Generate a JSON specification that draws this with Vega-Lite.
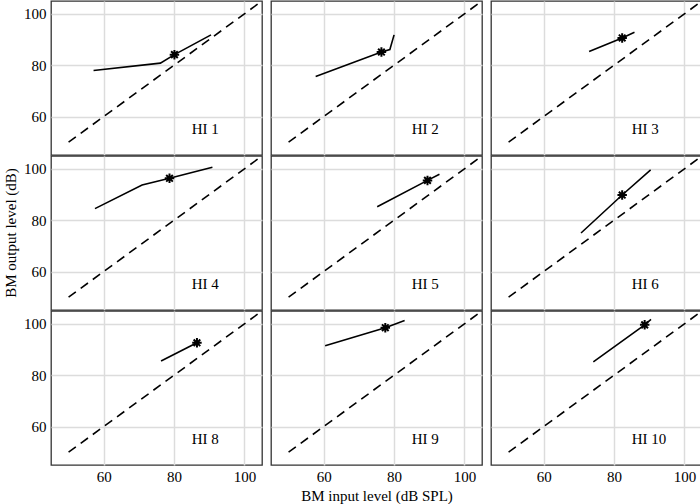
{
  "$schema": "https://vega.github.io/schema/vega-lite/v6.json",
  "padding": {"left": 3, "top": 0, "right": 1, "bottom": 0},
  "background": "white",
  "data": {"values": [
    {"p":"HI 1","r":1,"c":1,"s":"diag","x":50,"y":50,"o":1},
    {"p":"HI 1","r":1,"c":1,"s":"diag","x":106,"y":106,"o":2},
    {"p":"HI 1","r":1,"c":1,"s":"curve","x":57.1,"y":77.9,"o":1},
    {"p":"HI 1","r":1,"c":1,"s":"curve","x":76.1,"y":80.8,"o":2},
    {"p":"HI 1","r":1,"c":1,"s":"curve","x":80.1,"y":84.1,"o":3},
    {"p":"HI 1","r":1,"c":1,"s":"curve","x":90.5,"y":91.8,"o":4},
    {"p":"HI 1","r":1,"c":1,"s":"star","x":80.1,"y":84.1,"o":1},
    {"p":"HI 1","r":1,"c":1,"s":"label","x":85,"y":55,"o":1},

    {"p":"HI 2","r":1,"c":2,"s":"diag","x":50,"y":50,"o":1},
    {"p":"HI 2","r":1,"c":2,"s":"diag","x":106,"y":106,"o":2},
    {"p":"HI 2","r":1,"c":2,"s":"curve","x":57.7,"y":75.6,"o":1},
    {"p":"HI 2","r":1,"c":2,"s":"curve","x":76.4,"y":85.1,"o":2},
    {"p":"HI 2","r":1,"c":2,"s":"curve","x":78.8,"y":86.1,"o":3},
    {"p":"HI 2","r":1,"c":2,"s":"curve","x":80.0,"y":91.8,"o":4},
    {"p":"HI 2","r":1,"c":2,"s":"star","x":76.4,"y":85.1,"o":1},
    {"p":"HI 2","r":1,"c":2,"s":"label","x":85,"y":55,"o":1},

    {"p":"HI 3","r":1,"c":3,"s":"diag","x":50,"y":50,"o":1},
    {"p":"HI 3","r":1,"c":3,"s":"diag","x":106,"y":106,"o":2},
    {"p":"HI 3","r":1,"c":3,"s":"curve","x":72.9,"y":85.3,"o":1},
    {"p":"HI 3","r":1,"c":3,"s":"curve","x":82.3,"y":90.6,"o":2},
    {"p":"HI 3","r":1,"c":3,"s":"curve","x":85.8,"y":92.8,"o":3},
    {"p":"HI 3","r":1,"c":3,"s":"star","x":82.3,"y":90.6,"o":1},
    {"p":"HI 3","r":1,"c":3,"s":"label","x":85,"y":55,"o":1},

    {"p":"HI 4","r":2,"c":1,"s":"diag","x":50,"y":50,"o":1},
    {"p":"HI 4","r":2,"c":1,"s":"diag","x":106,"y":106,"o":2},
    {"p":"HI 4","r":2,"c":1,"s":"curve","x":57.5,"y":84.5,"o":1},
    {"p":"HI 4","r":2,"c":1,"s":"curve","x":70.9,"y":93.7,"o":2},
    {"p":"HI 4","r":2,"c":1,"s":"curve","x":78.7,"y":96.3,"o":3},
    {"p":"HI 4","r":2,"c":1,"s":"curve","x":90.9,"y":100.6,"o":4},
    {"p":"HI 4","r":2,"c":1,"s":"star","x":78.7,"y":96.3,"o":1},
    {"p":"HI 4","r":2,"c":1,"s":"label","x":85,"y":55,"o":1},

    {"p":"HI 5","r":2,"c":2,"s":"diag","x":50,"y":50,"o":1},
    {"p":"HI 5","r":2,"c":2,"s":"diag","x":106,"y":106,"o":2},
    {"p":"HI 5","r":2,"c":2,"s":"curve","x":75.2,"y":85.2,"o":1},
    {"p":"HI 5","r":2,"c":2,"s":"curve","x":89.5,"y":95.5,"o":2},
    {"p":"HI 5","r":2,"c":2,"s":"curve","x":92.9,"y":97.9,"o":3},
    {"p":"HI 5","r":2,"c":2,"s":"star","x":89.5,"y":95.5,"o":1},
    {"p":"HI 5","r":2,"c":2,"s":"label","x":85,"y":55,"o":1},

    {"p":"HI 6","r":2,"c":3,"s":"diag","x":50,"y":50,"o":1},
    {"p":"HI 6","r":2,"c":3,"s":"diag","x":106,"y":106,"o":2},
    {"p":"HI 6","r":2,"c":3,"s":"curve","x":70.6,"y":75.0,"o":1},
    {"p":"HI 6","r":2,"c":3,"s":"curve","x":82.3,"y":89.8,"o":2},
    {"p":"HI 6","r":2,"c":3,"s":"curve","x":90.4,"y":99.6,"o":3},
    {"p":"HI 6","r":2,"c":3,"s":"star","x":82.3,"y":89.8,"o":1},
    {"p":"HI 6","r":2,"c":3,"s":"label","x":85,"y":55,"o":1},

    {"p":"HI 8","r":3,"c":1,"s":"diag","x":50,"y":50,"o":1},
    {"p":"HI 8","r":3,"c":1,"s":"diag","x":106,"y":106,"o":2},
    {"p":"HI 8","r":3,"c":1,"s":"curve","x":76.3,"y":85.5,"o":1},
    {"p":"HI 8","r":3,"c":1,"s":"curve","x":86.5,"y":92.6,"o":2},
    {"p":"HI 8","r":3,"c":1,"s":"star","x":86.5,"y":92.6,"o":1},
    {"p":"HI 8","r":3,"c":1,"s":"label","x":85,"y":55,"o":1},

    {"p":"HI 9","r":3,"c":2,"s":"diag","x":50,"y":50,"o":1},
    {"p":"HI 9","r":3,"c":2,"s":"diag","x":106,"y":106,"o":2},
    {"p":"HI 9","r":3,"c":2,"s":"curve","x":60.4,"y":91.5,"o":1},
    {"p":"HI 9","r":3,"c":2,"s":"curve","x":77.5,"y":98.5,"o":2},
    {"p":"HI 9","r":3,"c":2,"s":"curve","x":83.0,"y":101.3,"o":3},
    {"p":"HI 9","r":3,"c":2,"s":"star","x":77.5,"y":98.5,"o":1},
    {"p":"HI 9","r":3,"c":2,"s":"label","x":85,"y":55,"o":1},

    {"p":"HI 10","r":3,"c":3,"s":"diag","x":50,"y":50,"o":1},
    {"p":"HI 10","r":3,"c":3,"s":"diag","x":106,"y":106,"o":2},
    {"p":"HI 10","r":3,"c":3,"s":"curve","x":74.1,"y":85.2,"o":1},
    {"p":"HI 10","r":3,"c":3,"s":"curve","x":88.7,"y":99.6,"o":2},
    {"p":"HI 10","r":3,"c":3,"s":"curve","x":90.5,"y":101.7,"o":3},
    {"p":"HI 10","r":3,"c":3,"s":"star","x":88.7,"y":99.6,"o":1},
    {"p":"HI 10","r":3,"c":3,"s":"label","x":85,"y":55,"o":1}
  ]},
  "facet": {
    "row": {"field": "r", "type": "ordinal", "header": {"title": "BM output level (dB)", "labels": false, "labelPadding": 0, "titleFont": "Liberation Serif", "titleFontSize": 15, "titleFontWeight": "normal", "titleColor": "black", "titlePadding": -6}},
    "column": {"field": "c", "type": "ordinal", "header": {"title": "BM input level (dB SPL)", "titleOrient": "bottom", "labels": false, "labelPadding": 0, "titleFont": "Liberation Serif", "titleFontSize": 15, "titleFontWeight": "normal", "titleColor": "black", "titlePadding": -5}}
  },
  "spacing": {"row": -1, "column": 7},
  "spec": {
    "width": 211,
    "height": 154,
    "encoding": {
      "x": {"field": "x", "type": "quantitative", "scale": {"domain": [45, 105], "nice": false, "zero": false}, "axis": {"title": null, "values": [60, 80, 100]}},
      "y": {"field": "y", "type": "quantitative", "scale": {"domain": [45, 105], "nice": false, "zero": false}, "axis": {"title": null, "values": [60, 80, 100]}}
    },
    "layer": [
      {"transform": [{"filter": "datum.s == 'diag'"}], "mark": {"type": "line", "color": "black", "strokeWidth": 1.6, "strokeDash": [9, 6], "clip": true}, "encoding": {"order": {"field": "o", "type": "quantitative"}}},
      {"transform": [{"filter": "datum.s == 'curve'"}], "mark": {"type": "line", "color": "black", "strokeWidth": 1.6}, "encoding": {"order": {"field": "o", "type": "quantitative"}}},
      {"transform": [{"filter": "datum.s == 'star'"}], "mark": {"type": "point", "shape": "M-1,0L1,0M0,-1L0,1M-0.7,-0.7L0.7,0.7M-0.7,0.7L0.7,-0.7", "size": 90, "filled": false, "stroke": "black", "strokeWidth": 2, "opacity": 1}},
      {"transform": [{"filter": "datum.s == 'label'"}], "mark": {"type": "text", "align": "left", "baseline": "middle", "font": "Liberation Serif", "fontSize": 15, "color": "black"}, "encoding": {"text": {"field": "p"}}}
    ]
  },
  "config": {
    "view": {"stroke": "#333", "strokeWidth": 1.3},
    "axis": {"labelFont": "Liberation Serif", "labelFontSize": 15, "labelColor": "black", "domain": false, "ticks": false, "grid": true, "gridColor": "#dcdcdc", "gridWidth": 1.5, "minExtent": 0},
    "axisX": {"labelPadding": 3},
    "axisY": {"labelPadding": 4}
  }
}
